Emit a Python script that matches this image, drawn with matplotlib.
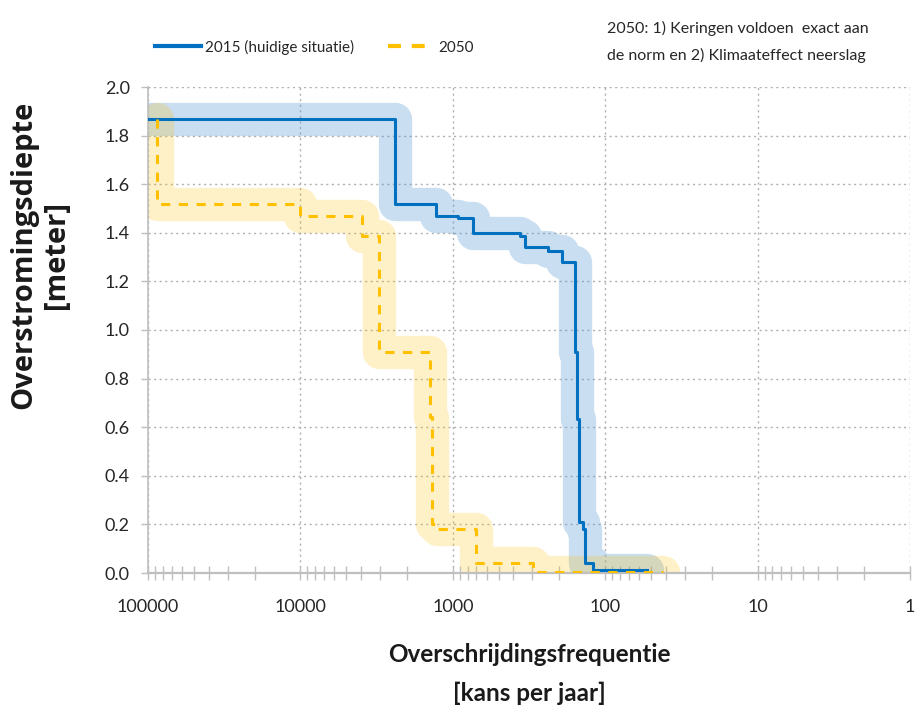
import matplotlib
matplotlib.use("Agg")
import matplotlib.pyplot as plt
from matplotlib.ticker import FixedLocator, FixedFormatter, LogLocator, NullFormatter
from matplotlib.lines import Line2D

# ---- data ----
freq_2015 = [100000, 2400, 1290, 925, 741, 363, 336, 237, 192, 158, 154, 148, 139, 136, 120, 53]
depth_2015 = [1.87, 1.52, 1.47, 1.46, 1.40, 1.385, 1.34, 1.325, 1.28, 0.91, 0.635, 0.21, 0.18, 0.04, 0.012, 0.012]

freq_2050 = [87000, 87000, 10000, 3950, 3050, 1410, 1370, 1270, 705, 298, 42]
depth_2050 = [1.87, 1.52, 1.47, 1.385, 0.91, 0.64, 0.20, 0.18, 0.04, 0.005, 0.005]

x_ticks = [100000, 10000, 1000, 100, 10, 1]
x_tick_labels = ["100000", "10000", "1000", "100", "10", "1"]
y_ticks = [0.0, 0.2, 0.4, 0.6, 0.8, 1.0, 1.2, 1.4, 1.6, 1.8, 2.0]

label_2015 = "2015 (huidige situatie)"
label_2050 = "2050"
note_lines = ["2050: 1) Keringen voldoen  exact aan", "de norm en 2) Klimaateffect neerslag"]
ylabel = "Overstromingsdiepte\n[meter]"
xlabel1 = "Overschrijdingsfrequentie"
xlabel2 = "[kans per jaar]"

BLUE = "#0070c0"
YELLOW = "#ffc000"
TXT = "#262626"
FONT = ["Lato", "DejaVu Sans"]

W, H = 919, 711
fig = plt.figure(figsize=(W / 100, H / 100), dpi=100)
ax = fig.add_axes([148 / W, 138 / H, 762 / W, 486 / H])

ax.set_xscale("log")
ax.set_xlim(100000, 1)
ax.set_ylim(0, 2.0)

# halos
ax.plot(freq_2015, depth_2015, drawstyle="steps-post", color="#5b9bd5", alpha=0.33,
        lw=24, solid_capstyle="round", solid_joinstyle="round", zorder=2)
ax.plot(freq_2050, depth_2050, drawstyle="steps-post", color=YELLOW, alpha=0.22,
        lw=24, solid_capstyle="round", solid_joinstyle="round", zorder=2.1)
# main lines
l1, = ax.plot(freq_2015, depth_2015, drawstyle="steps-post", color=BLUE, lw=2.2, zorder=4)
l2, = ax.plot(freq_2050, depth_2050, drawstyle="steps-post", color=YELLOW, lw=2.2,
              dashes=(3.0, 2.8), zorder=5)

# ticks / grid
ax.xaxis.set_major_locator(FixedLocator(x_ticks))
ax.xaxis.set_major_formatter(FixedFormatter(x_tick_labels))
ax.xaxis.set_minor_locator(LogLocator(base=10, subs=range(2, 10)))
ax.xaxis.set_minor_formatter(NullFormatter())
ax.yaxis.set_major_locator(FixedLocator(y_ticks))
ax.yaxis.set_major_formatter(plt.FuncFormatter(lambda v, p: f"{v:.1f}"))

ax.grid(True, which="major", axis="both", color="#b0b0b0", lw=1.0, linestyle=(0, (1.5, 2.5)), zorder=1)

for s in ["top", "right"]:
    ax.spines[s].set_visible(False)
ax.spines["left"].set_color("#bfbfbf")
ax.spines["bottom"].set_color("#bfbfbf")
ax.spines["left"].set_linewidth(1.2)
ax.spines["bottom"].set_linewidth(1.6)
ax.spines["bottom"].set_zorder(3)

ax.tick_params(axis="x", which="both", direction="inout", length=10, width=1, color="#bfbfbf",
               labelsize=13, labelcolor=TXT, pad=14)
ax.tick_params(axis="y", which="major", direction="out", length=5, width=1, color="#bfbfbf",
               labelsize=13, labelcolor=TXT, pad=8)
for lab in ax.get_xticklabels() + ax.get_yticklabels():
    lab.set_family(FONT)

# axis titles
fig.text(40 / W, 1 - 255 / H, ylabel, rotation=90, ha="center", va="center",
         multialignment="center", fontsize=21, fontweight="bold", family=["Open Sans", "DejaVu Sans"],
         color="#1a1a1a", linespacing=1.15)
fig.text(529 / W, 1 - 655 / H, xlabel1, ha="center", va="center", fontsize=17.5,
         fontweight="bold", family=FONT, color="#1a1a1a")
fig.text(529 / W, 1 - 693 / H, xlabel2, ha="center", va="center", fontsize=17.5,
         fontweight="bold", family=FONT, color="#1a1a1a")

# legend (handles mirror the plotted line styles, slightly thicker as in the reference)
h1 = Line2D([], [], color=BLUE, lw=3.0)
h2 = Line2D([], [], color=YELLOW, lw=3.0, dashes=(3.1, 2.6))
leg = fig.legend([h1, h2], [label_2015, label_2050], loc="center left",
                 bbox_to_anchor=(141 / W, 1 - 47 / H), ncol=2, frameon=False,
                 handlelength=3.0, handletextpad=0.3, columnspacing=2.2,
                 prop={"family": FONT, "size": 11})
for t in leg.get_texts():
    t.set_color(TXT)

# note
fig.text(607 / W, 1 - 28 / H, note_lines[0], ha="left", va="center", fontsize=11.5,
         family=FONT, color=TXT)
fig.text(607 / W, 1 - 55 / H, note_lines[1], ha="left", va="center", fontsize=11.5,
         family=FONT, color=TXT)

fig.savefig("out.png", dpi=100)
